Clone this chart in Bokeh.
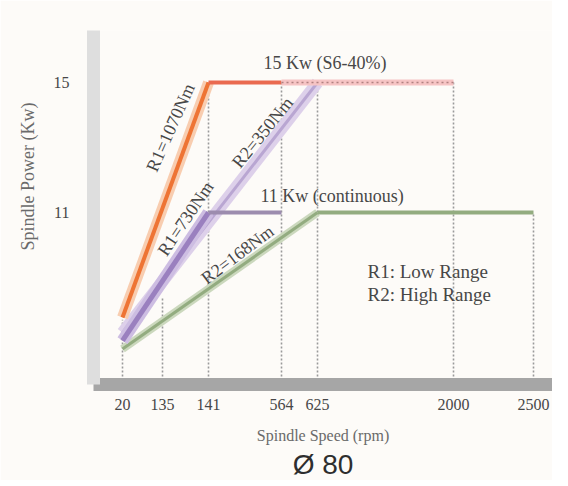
import numpy as np
from bokeh.plotting import figure
from bokeh.models import Range1d, FixedTicker, Label, Title
from bokeh.embed import file_html
from bokeh.resources import INLINE

# ---- data ----
tick_speeds = [20, 135, 141, 564, 625, 2000, 2500]
tick_labels = ["20", "135", "141", "564", "625", "2000", "2500"]
guide_top_power = [7.7, 8.4, 15, 15, 15, 15, 11]

speed_r1 = [20, 141]
power_r1_1070 = [7.77, 15]
power_r1_730 = [7.06, 11]
speed_r2 = [20, 625]
power_r2_350 = [7.3, 15]
power_r2_168 = [6.8, 11]

s6_power = 15
s6_speed_solid = [141, 564]
s6_speed_dotted = [564, 2000]
cont_power = 11
cont_speed_r1 = [141, 564]
cont_speed_r2 = [625, 2500]

y_ticks = [11, 15]

# non-linear speed axis of the original drawing (piecewise scale)
axis_pos = [122, 162, 208, 281, 317, 453, 533]
def xp(s):
    return list(np.interp(s, tick_speeds, axis_pos))

# vertical scale: 32.5 px per kW, 15 kW at 82 px from top
def py(pix):
    return 15 - (pix - 82) / 32.5

TXT = "#474747"
BG = "#fdfbf8"

p = figure(width=552, height=480, output_backend="svg", toolbar_location=None,
           x_range=Range1d(93, 552), y_range=Range1d(py(384), py(30)),
           min_border_left=93, min_border_right=0, min_border_top=30, min_border_bottom=96,
           background_fill_color=BG, border_fill_color=BG)
p.outline_line_color = None
p.grid.visible = False

# x axis
p.xaxis.ticker = FixedTicker(ticks=axis_pos)
p.xaxis.major_label_overrides = {a: l for a, l in zip(axis_pos, tick_labels)}
p.xaxis.axis_line_color = "#a6a6a6"
p.xaxis.axis_line_width = 13
p.xaxis.major_tick_line_color = None
p.xaxis.minor_tick_line_color = None
p.xaxis.major_tick_out = 0
p.xaxis.major_tick_in = 0
p.xaxis.major_label_standoff = 14
p.xaxis.major_label_text_font = "Liberation Serif"
p.xaxis.major_label_text_font_size = "16px"
p.xaxis.major_label_text_color = TXT
p.xaxis.axis_label = "Spindle Speed (rpm)"
p.xaxis.axis_label_text_font = "Liberation Serif"
p.xaxis.axis_label_text_font_style = "normal"
p.xaxis.axis_label_text_font_size = "16px"
p.xaxis.axis_label_text_color = "#6a6a6a"
p.xaxis.axis_label_standoff = 14

# y axis
p.yaxis.ticker = FixedTicker(ticks=y_ticks)
p.yaxis.axis_line_color = "#dedede"
p.yaxis.axis_line_width = 13
p.yaxis.major_tick_line_color = None
p.yaxis.minor_tick_line_color = None
p.yaxis.major_tick_out = 0
p.yaxis.major_tick_in = 0
p.yaxis.major_label_standoff = 24
p.yaxis.major_label_text_font = "Liberation Serif"
p.yaxis.major_label_text_font_size = "16px"
p.yaxis.major_label_text_color = TXT

p.add_layout(Title(text="Spindle Power (Kw)", align="left", offset=134, standoff=26,
                   text_font="Liberation Serif", text_font_size="18px",
                   text_font_style="normal", text_color="#6a6a6a"), "left")
p.add_layout(Title(text="Ø 80", align="center", standoff=0, text_font="Liberation Sans",
                   text_font_size="28px", text_font_style="normal",
                   text_color="#2e2e2e"), "below")

# dotted guides
gx = xp(tick_speeds)
p.segment(x0=gx, y0=[py(384)] * len(gx), x1=gx, y1=guide_top_power,
          line_color="#9a9a9a", line_width=1.6, line_dash="2 2")

# R2 = 350 Nm band
p.line(xp(speed_r2), power_r2_350, line_color="#ddd0ea", line_width=12)
p.line(xp(speed_r2), power_r2_350, line_color="#b9a6d2", line_width=3)
# R2 = 168 Nm
p.line(xp(speed_r2), power_r2_168, line_color="#cbd8bd", line_width=8)
p.line(xp(speed_r2), power_r2_168, line_color="#93ac80", line_width=3)
# R1 = 730 Nm
p.line(xp(speed_r1), power_r1_730, line_color="#cdbde2", line_width=12)
p.line(xp(speed_r1), power_r1_730, line_color="#9a80bf", line_width=5)
# R1 = 1070 Nm
p.line(xp(speed_r1), power_r1_1070, line_color="#f8cdb0", line_width=11)
p.line(xp(speed_r1), power_r1_1070, line_color="#ee7434", line_width=4)

# 15 kW S6 level
p.line(xp(s6_speed_solid), [s6_power] * 2, line_color="#ea6a50", line_width=4)
p.line(xp(s6_speed_dotted), [s6_power] * 2, line_color="#f6c4c4", line_width=6)
p.line(xp(s6_speed_dotted), [s6_power] * 2, line_color="#b08080", line_width=1.5, line_dash="2 3")
# 11 kW continuous level
p.line(xp(cont_speed_r1), [cont_power] * 2, line_color="#9c8cae", line_width=4)
p.line(xp(cont_speed_r2), [cont_power] * 2, line_color="#93ac80", line_width=4)

# texts (positions in pixels of the drawing)
def lab(x, ypix, t, angle=0.0, align="center", size="18px"):
    p.add_layout(Label(x=x, y=py(ypix), text=t, angle=np.radians(angle), text_align=align,
                       text_baseline="middle", text_font="Liberation Serif",
                       text_font_size=size, text_color=TXT))

lab(170, 127, "R1=1070Nm", 66)
lab(185, 218, "R1=730Nm", 56)
lab(262, 132, "R2=350Nm", 51)
lab(237, 254, "R2=168Nm", 37)
lab(263, 62, "15 Kw (S6-40%)", align="left")
lab(260, 195, "11 Kw (continuous)", align="left")
lab(367, 271, "R1: Low Range", align="left", size="19px")
lab(367, 294, "R2: High Range", align="left", size="19px")

open("out.html", "w").write(file_html(p, INLINE))
